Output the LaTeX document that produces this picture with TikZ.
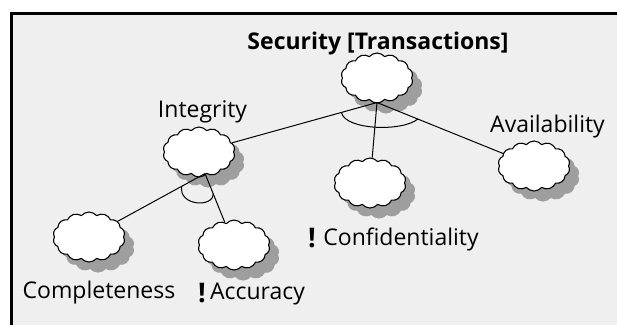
\documentclass[tikz,border=0pt]{standalone}
\usepackage{fontspec}
\setmainfont{Open Sans}
\usetikzlibrary{shapes.symbols,calc}
\definecolor{bg}{HTML}{EFEFEF}
\begin{document}
\begin{tikzpicture}[x=1pt,y=-1pt,
  cloudbase/.style={shape=cloud, cloud puffs=14, cloud puff arc=100, aspect=1.45,
    minimum width=72pt, minimum height=50pt, inner sep=0pt, line width=1.1pt},
  goal/.style={cloudbase, draw=black, fill=white},
  goalsh/.style={cloudbase, draw=black!38, fill=black!38},
  lbl/.style={font=\fontsize{23}{27}\selectfont, inner sep=0pt, anchor=base},
  ttl/.style={font=\fontsize{23}{27}\selectfont\bfseries, inner sep=0pt, anchor=base},
  excl/.style={font=\fontsize{27}{30}\selectfont\bfseries, inner sep=0pt, anchor=base},
  link/.style={line width=1pt},
  andarc/.style={line width=1pt}]
\useasboundingbox (0,0) rectangle (617,325);
\fill[bg] (11,13) rectangle (617,325);
\draw[line width=3pt] (11.5,325) -- (11.5,13.5) -- (617,13.5);

% shadows
\node[goalsh] (rootsh)  at (386,88)  {};
\node[goalsh] (integsh) at (208,162) {};
\node[goalsh] (complsh) at (98,247)  {};
\node[goalsh] (accursh) at (243,255) {};
\node[goalsh] (confsh)  at (379,193) {};
\node[goalsh] (availsh) at (543,176) {};

% goals
\node[goal] (root)  at (377,78)  {};
\node[goal] (integ) at (199,152) {};
\node[goal] (compl) at (89,237)  {};
\node[goal] (accur) at (234,245) {};
\node[goal] (conf)  at (370,183) {};
\node[goal] (avail) at (534,166) {};

% connectors
\coordinate (rapex) at ([yshift=1pt]root.south);
\coordinate (iapex) at ([xshift=6pt,yshift=4pt]integ.south);
\draw[link] (rapex) -- (integ);
\draw[link] (rapex) -- (conf);
\draw[link] (rapex) -- (avail);
\draw[link] (iapex) -- (compl);
\draw[link] (iapex) -- (accur);

% AND arcs
\coordinate (ra1) at ($(rapex)!0.2!(integ)$);
\coordinate (ra2) at ($(rapex)!0.26!(avail)$);
\draw[andarc] (ra1) .. controls (345,130) and (402,132) .. (ra2);
\coordinate (ia1) at ($(iapex)!0.2!(compl)$);
\coordinate (ia2) at ($(iapex)!0.28!(accur)$);
\draw[andarc] (ia1) .. controls (178,206) and (214,208) .. (ia2);

% labels
\node[ttl] (ttitle) at (378,49) {Security [Transactions]};
\node[lbl] (tinteg) at (202.5,117) {Integrity};
\node[lbl] (tavail) at (547.5,132) {Availability};
\node[lbl] (tconf)  at (401,245) {Confidentiality};
\node[lbl] (tcompl) at (99,298) {Completeness};
\node[lbl] (taccur) at (257.5,299) {Accuracy};
\node[excl] (xconf)  at (312,247) {!};
\node[excl] (xaccur) at (202,302) {!};
\end{tikzpicture}
\end{document}
